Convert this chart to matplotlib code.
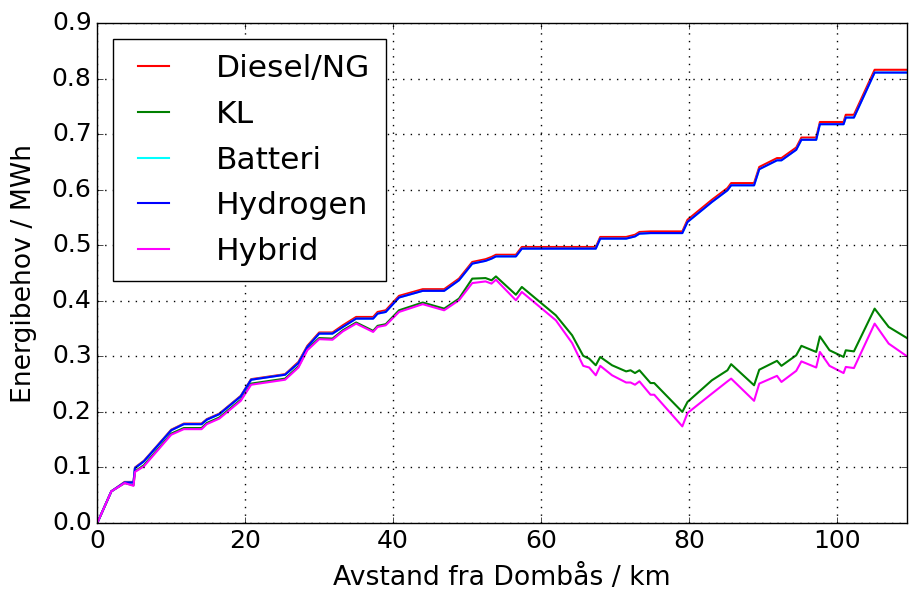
import matplotlib
matplotlib.use('Agg')
import matplotlib.pyplot as plt

plt.style.use('classic')

# avstand (km)
x = [0, 1.9, 3.7, 4.9, 5.1, 6.3, 10.0, 11.7, 14.1, 14.8, 16.5, 19.4, 20.8, 25.4,
     27.2, 28.4, 30.0, 31.8, 33.2, 35.0, 37.3, 37.9, 39.0, 40.8, 44.0, 46.9, 48.9,
     50.7, 52.5, 53.3, 53.9, 56.6, 57.4, 62.0, 64.2, 65.7, 66.5, 67.4, 68.0, 69.6,
     71.5, 72.1, 72.7, 73.3, 74.8, 75.3, 79.1, 79.8, 83.1, 85.2, 85.7, 88.8, 89.5,
     91.9, 92.5, 94.5, 95.2, 97.2, 97.7, 99.0, 100.9, 101.2, 102.3, 105.1, 107.0, 109.6]

diesel = [0.0, 0.057, 0.074, 0.074, 0.100, 0.112, 0.168, 0.179, 0.179, 0.187, 0.197,
          0.229, 0.259, 0.268, 0.290, 0.319, 0.343, 0.343, 0.356, 0.371, 0.371, 0.380,
          0.383, 0.409, 0.421, 0.421, 0.440, 0.470, 0.475, 0.479, 0.483, 0.483, 0.497,
          0.497, 0.497, 0.497, 0.497, 0.497, 0.515, 0.515, 0.515, 0.517, 0.519, 0.524,
          0.525, 0.525, 0.525, 0.546, 0.582, 0.603, 0.612, 0.612, 0.641, 0.657, 0.657,
          0.676, 0.694, 0.694, 0.722, 0.722, 0.722, 0.735, 0.735, 0.816, 0.816, 0.816]

hydrogen = [0.0, 0.057, 0.073, 0.073, 0.099, 0.111, 0.167, 0.178, 0.178, 0.186, 0.196,
            0.228, 0.258, 0.267, 0.288, 0.317, 0.341, 0.341, 0.353, 0.368, 0.368, 0.377,
            0.380, 0.406, 0.418, 0.418, 0.437, 0.467, 0.472, 0.476, 0.480, 0.480, 0.494,
            0.494, 0.494, 0.494, 0.494, 0.494, 0.512, 0.512, 0.512, 0.514, 0.516, 0.521,
            0.522, 0.522, 0.522, 0.542, 0.578, 0.599, 0.608, 0.608, 0.637, 0.653, 0.653,
            0.672, 0.690, 0.690, 0.718, 0.718, 0.718, 0.730, 0.730, 0.811, 0.811, 0.811]

batteri = [0.0, 0.057, 0.073, 0.073, 0.099, 0.111, 0.167, 0.178, 0.178, 0.186, 0.196,
           0.228, 0.258, 0.267, 0.288, 0.317, 0.341, 0.341, 0.353, 0.368, 0.368, 0.377,
           0.380, 0.406, 0.418, 0.418, 0.437, 0.467, 0.472, 0.476, 0.480, 0.480, 0.494,
           0.494, 0.494, 0.494, 0.494, 0.494, 0.512, 0.512, 0.512, 0.514, 0.516, 0.521,
           0.522, 0.522, 0.522, 0.542, 0.578, 0.599, 0.608, 0.608, 0.637, 0.653, 0.653,
           0.672, 0.690, 0.690, 0.718, 0.718, 0.718, 0.730, 0.730, 0.811, 0.811, 0.811]

kl = [0.0, 0.057, 0.072, 0.068, 0.093, 0.104, 0.161, 0.171, 0.171, 0.180, 0.190,
      0.222, 0.251, 0.260, 0.282, 0.313, 0.333, 0.332, 0.347, 0.361, 0.346, 0.355,
      0.358, 0.383, 0.397, 0.386, 0.404, 0.440, 0.441, 0.437, 0.444, 0.411, 0.425,
      0.374, 0.338, 0.301, 0.296, 0.284, 0.299, 0.284, 0.273, 0.275, 0.270, 0.275,
      0.252, 0.252, 0.200, 0.218, 0.257, 0.275, 0.286, 0.248, 0.276, 0.292, 0.283,
      0.302, 0.319, 0.308, 0.336, 0.311, 0.299, 0.311, 0.309, 0.386, 0.353, 0.332]

hybrid = [0.0, 0.057, 0.072, 0.067, 0.092, 0.102, 0.159, 0.169, 0.169, 0.178, 0.188,
          0.220, 0.249, 0.258, 0.280, 0.311, 0.331, 0.330, 0.345, 0.359, 0.344, 0.353,
          0.356, 0.380, 0.394, 0.383, 0.401, 0.432, 0.435, 0.431, 0.438, 0.401, 0.416,
          0.365, 0.324, 0.283, 0.280, 0.266, 0.283, 0.266, 0.253, 0.253, 0.249, 0.255,
          0.231, 0.231, 0.174, 0.198, 0.233, 0.255, 0.260, 0.220, 0.251, 0.265, 0.254,
          0.274, 0.291, 0.280, 0.308, 0.283, 0.270, 0.281, 0.279, 0.359, 0.323, 0.299]

fig = plt.figure(figsize=(9.09, 5.93), dpi=100, facecolor='w')
ax = fig.add_axes([0.107, 0.118, 0.891, 0.843])

ax.plot(x, diesel, color='red', lw=1.5, label='Diesel/NG')
ax.plot(x, kl, color='green', lw=1.5, label='KL')
ax.plot(x, batteri, color='cyan', lw=1.5, label='Batteri')
ax.plot(x, hydrogen, color='blue', lw=1.5, label='Hydrogen')
ax.plot(x, hybrid, color='magenta', lw=1.5, label='Hybrid')

ax.set_xlim(0, 109.5)
ax.set_ylim(0, 0.9)
ax.grid(True, color='k', linestyle=(0, (1, 4.5)), linewidth=1.0)
ax.tick_params(labelsize=18)
ax.set_xlabel('Avstand fra Dombås / km', fontsize=19.2, labelpad=9)
ax.set_ylabel('Energibehov / MWh', fontsize=19.2, labelpad=11)

ax.legend(loc='upper left', fontsize=22.5, handlelength=1.6, handletextpad=1.2,
          borderpad=0.5, labelspacing=0.53)

plt.savefig('out.png', dpi=100, facecolor='w')
